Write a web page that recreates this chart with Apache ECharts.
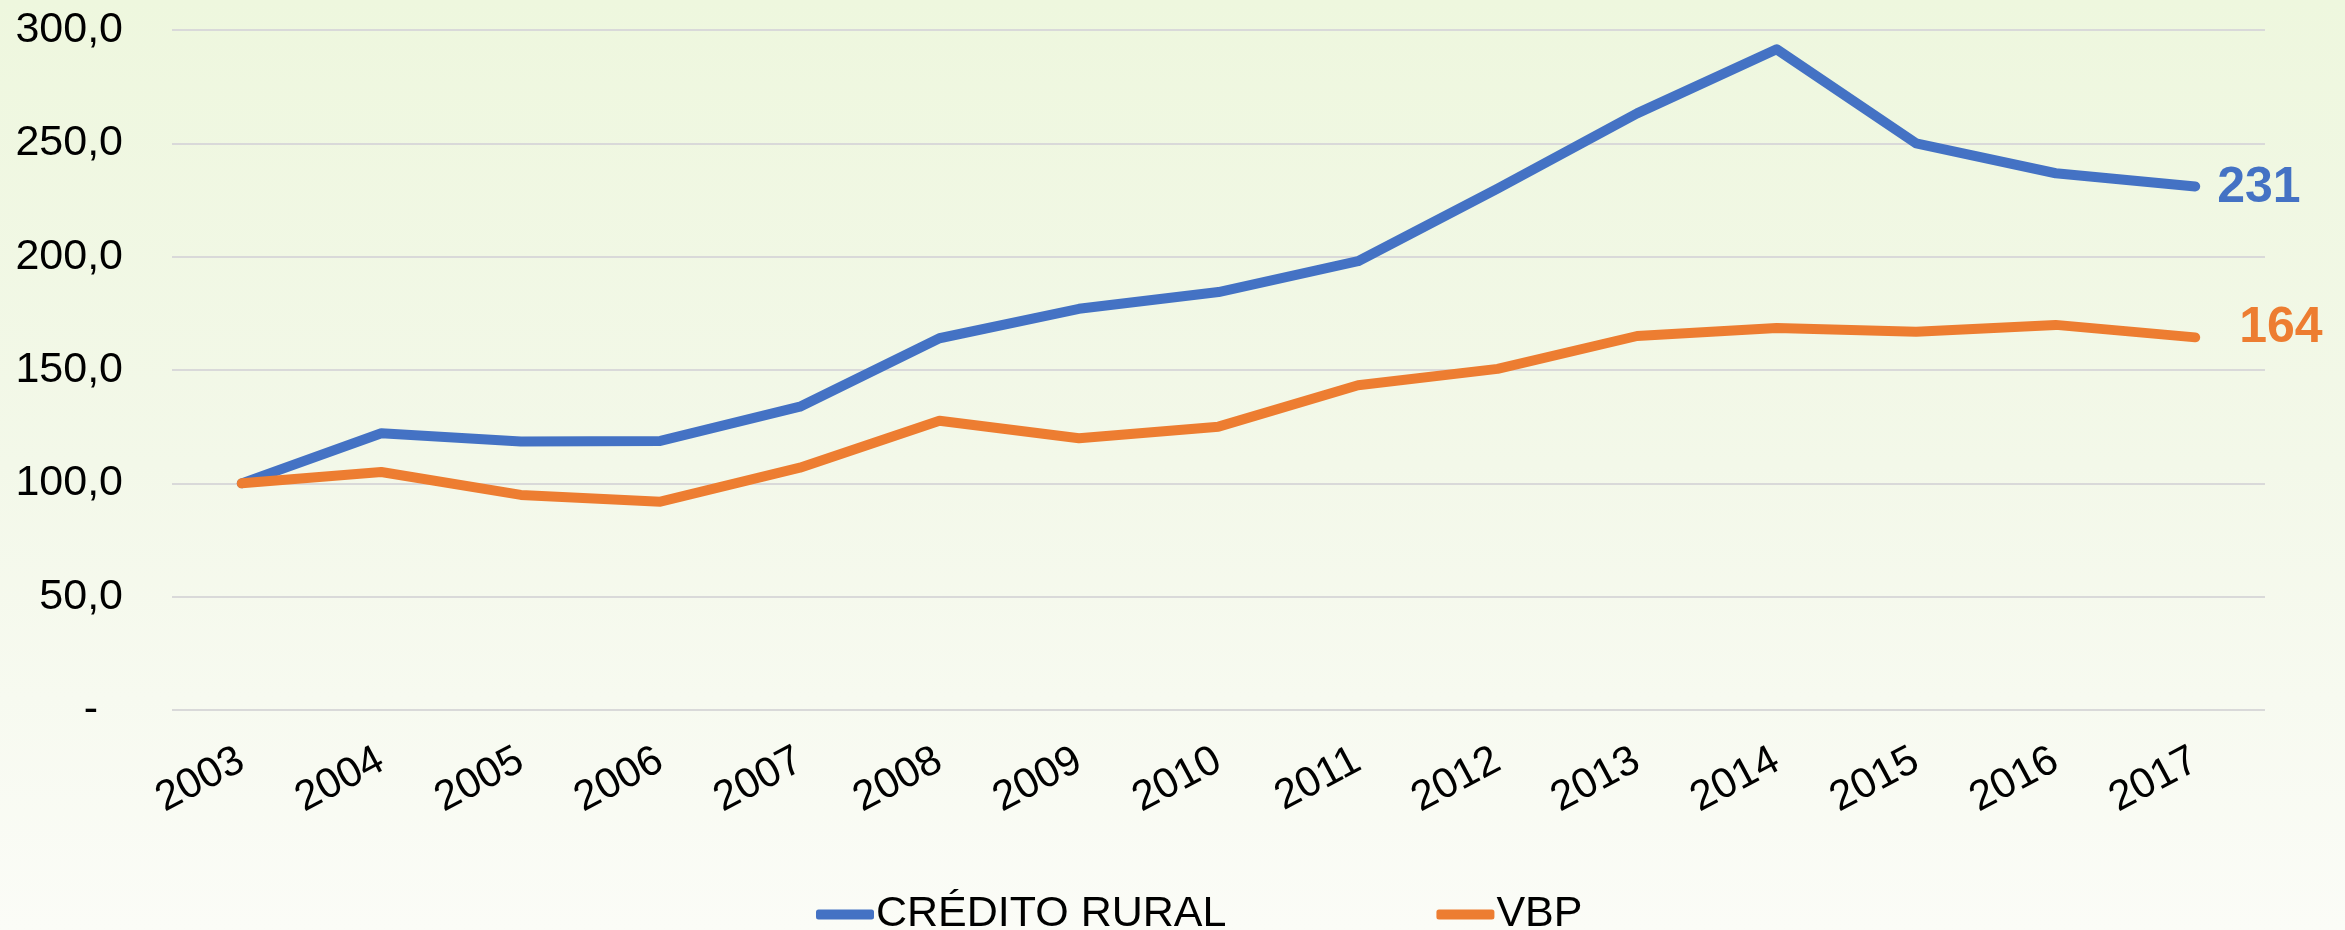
<!DOCTYPE html>
<html>
<head>
<meta charset="utf-8">
<script src="https://cdn.jsdelivr.net/npm/echarts@6/dist/echarts.min.js"></script>
<style>
  html, body { margin: 0; padding: 0; }
  #chart { width: 2345px; height: 930px; }
</style>
</head>
<body>
<div id="chart"></div>
<script>
// data
let years = ['2003', '2004', '2005', '2006', '2007', '2008', '2009', '2010', '2011', '2012', '2013', '2014', '2015', '2016', '2017'];
let creditoRural = [100, 122.1, 118.5, 118.7, 133.8, 164.0, 177.0, 184.4, 198.0, 230.0, 263.2, 291.5, 250.0, 236.8, 231.0];
let vbp = [100, 105.0, 94.9, 91.9, 106.9, 127.6, 119.9, 125.0, 143.3, 150.5, 165.0, 168.5, 166.9, 169.9, 164.4];
let seriesNames = ['CRÉDITO RURAL', 'VBP'];
let seriesColors = ['#4472C4', '#ED7D31'];

let chartDom = document.getElementById('chart');
let myChart = echarts.init(chartDom);
let font = '"Liberation Sans", Arial, sans-serif';

// value label at the end of each line
function endLabel(color, distance, offset) {
  return {
    show: true,
    distance: distance,
    offset: offset,
    color: color,
    fontFamily: font,
    fontWeight: 'bold',
    fontSize: 50,
    formatter: function (p) { return Math.round(p.value); }
  };
}

let option = {
  backgroundColor: new echarts.graphic.LinearGradient(0, 0, 0, 1, [
    { offset: 0, color: '#eef7de' },
    { offset: 0.5, color: '#f3f8e9' },
    { offset: 1, color: '#fbfcf7' }
  ]),
  animation: false,
  textStyle: { fontFamily: font },
  legend: {
    data: seriesNames,
    left: 811,
    top: 888,
    icon: 'roundRect',
    itemWidth: 58,
    itemHeight: 10,
    itemGap: 210,
    textStyle: {
      color: '#000',
      fontSize: 43,
      fontFamily: font,
      padding: [0, 0, 0, -3]
    }
  },
  grid: {
    left: 172,
    right: 80,
    top: 30,
    bottom: 220
  },
  xAxis: {
    type: 'category',
    boundaryGap: true,
    data: years,
    axisLine: { show: false },
    axisTick: { show: false },
    axisLabel: {
      rotate: 28,
      margin: 48,
      color: '#000',
      fontSize: 42,
      fontFamily: font
    }
  },
  yAxis: {
    type: 'value',
    min: 0,
    max: 300,
    interval: 50,
    axisLine: { show: false },
    axisTick: { show: false },
    splitLine: {
      lineStyle: { color: '#d9d9d9', width: 2 }
    },
    axisLabel: {
      margin: 49,
      color: '#000',
      fontSize: 43,
      fontFamily: font,
      formatter: function (v) {
        if (v === 0) return '{d|-}';
        return v.toFixed(1).replace('.', ',');
      },
      rich: {
        d: { fontSize: 43, color: '#000', padding: [0, 25, 0, 0] }
      }
    }
  },
  series: [
    {
      name: seriesNames[0],
      type: 'line',
      color: seriesColors[0],
      showSymbol: false,
      symbol: 'none',
      lineStyle: { width: 10, color: seriesColors[0], cap: 'round', join: 'round' },
      endLabel: endLabel(seriesColors[0], 22, [0, 2]),
      data: creditoRural
    },
    {
      name: seriesNames[1],
      type: 'line',
      color: seriesColors[1],
      showSymbol: false,
      symbol: 'none',
      lineStyle: { width: 10, color: seriesColors[1], cap: 'round', join: 'round' },
      endLabel: endLabel(seriesColors[1], 44, [0, -9]),
      data: vbp
    }
  ]
};

myChart.setOption(option);
</script>
</body>
</html>
